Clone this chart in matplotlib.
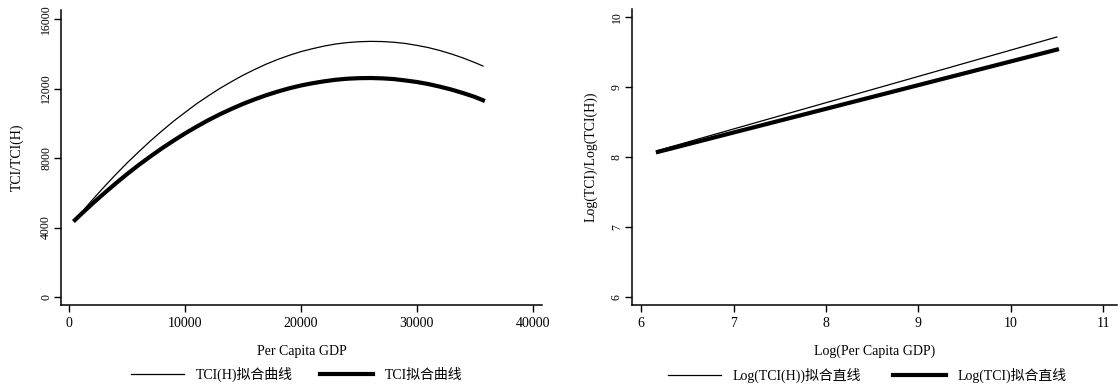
import matplotlib
matplotlib.use("Agg")
from matplotlib import pyplot as plt

# left panel: fitted quadratic curves
gdp = [500, 1000, 2000, 3000, 4000, 5000, 6000, 7000, 8000, 9000, 10000,
       11000, 12000, 13000, 14000, 15000, 16000, 17000, 18000, 19000, 20000,
       21000, 22000, 23000, 24000, 25000, 26000, 27000, 28000, 29000, 30000,
       31000, 32000, 33000, 34000, 35000, 35700]
tci_h = [4430, 4820, 5590, 6330, 7040, 7720, 8360, 8980, 9560, 10120, 10630,
         11130, 11580, 12010, 12400, 12770, 13100, 13410, 13680, 13920, 14130,
         14300, 14450, 14570, 14650, 14700, 14720, 14710, 14670, 14600, 14490,
         14360, 14190, 13990, 13760, 13500, 13300]
tci = [4430, 4750, 5370, 5960, 6530, 7080, 7600, 8090, 8560, 9000, 9420,
       9810, 10180, 10520, 10830, 11120, 11380, 11620, 11830, 12020, 12180,
       12310, 12420, 12510, 12570, 12600, 12610, 12590, 12550, 12470, 12380,
       12260, 12110, 11940, 11740, 11520, 11330]

# right panel: fitted straight lines (end points)
log_gdp = [6.18, 10.5]
log_tci_h = [8.09, 9.71]
log_tci = [8.07, 9.53]

left_xticks = [0, 10000, 20000, 30000, 40000]
left_yticks = [0, 4000, 8000, 12000, 16000]
right_xticks = [6, 7, 8, 9, 10, 11]
right_yticks = [6, 7, 8, 9, 10]

FONT = ["Liberation Serif", "Noto Sans CJK SC", "DejaVu Sans"]
plt.rcParams["font.family"] = FONT

fig = plt.figure(figsize=(11.2, 3.89), dpi=100)
ax1 = fig.add_axes([0.0545, 0.216, 0.4295, 0.758])
ax2 = fig.add_axes([0.5643, 0.216, 0.433, 0.761])


def style(ax, xt, yt):
    for s in ["top", "right"]:
        ax.spines[s].set_visible(False)
    for s in ["left", "bottom"]:
        ax.spines[s].set_linewidth(1.1)
    ax.set_xticks(xt)
    ax.set_yticks(yt)
    ax.tick_params(axis="both", direction="out", length=5, width=1.0)
    ax.tick_params(axis="x", labelsize=10, pad=4)
    ax.tick_params(axis="y", labelsize=8.5, pad=1.5)
    for lab in ax.get_yticklabels():
        lab.set_rotation(90)
        lab.set_va("center")


ax1.plot(gdp, tci_h, color="black", lw=0.9, label="TCI(H)拟合曲线")
ax1.plot(gdp, tci, color="black", lw=3.0, label="TCI拟合曲线")
ax1.set_xlim(-700, 40800)
ax1.set_ylim(-460, 16520)
style(ax1, left_xticks, left_yticks)
ax1.set_xlabel("Per Capita GDP", fontsize=10)
ax1.xaxis.set_label_coords(0.5, -0.135)
ax1.set_ylabel("TCI/TCI(H)", fontsize=10)
ax1.yaxis.set_label_coords(-0.077, 0.5)
ax1.legend(loc="center", bbox_to_anchor=(0.49, -0.237), ncol=2, frameon=False,
           fontsize=10, handlelength=3.8, handletextpad=0.85, columnspacing=2.0)

ax2.plot(log_gdp, log_tci_h, color="black", lw=0.9, label="Log(TCI(H))拟合直线")
ax2.plot(log_gdp, log_tci, color="black", lw=3.0, label="Log(TCI)拟合直线")
ax2.set_xlim(5.9, 11.15)
ax2.set_ylim(5.886, 10.11)
style(ax2, right_xticks, right_yticks)
ax2.set_xlabel("Log(Per Capita GDP)", fontsize=10)
ax2.xaxis.set_label_coords(0.5, -0.135)
ax2.set_ylabel("Log(TCI)/Log(TCI(H))", fontsize=10)
ax2.yaxis.set_label_coords(-0.072, 0.5)
ax2.legend(loc="center", bbox_to_anchor=(0.485, -0.237), ncol=2, frameon=False,
           fontsize=10, handlelength=3.8, handletextpad=0.85, columnspacing=2.3)

fig.savefig("out.png", dpi=100)
